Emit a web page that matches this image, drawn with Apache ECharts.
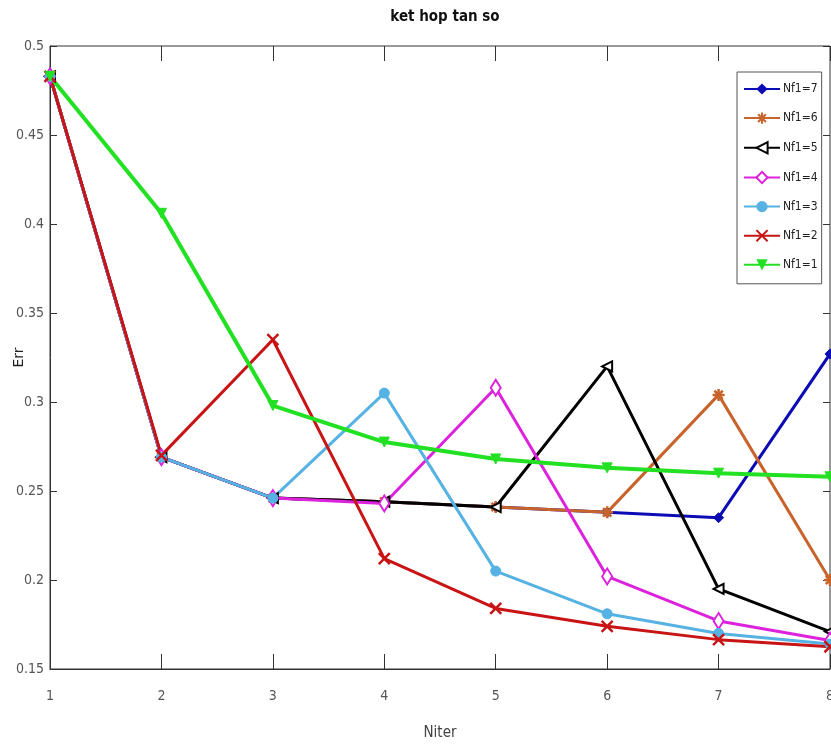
<!DOCTYPE html>
<html>
<head>
<meta charset="utf-8">
<script src="https://cdn.jsdelivr.net/npm/echarts@6/dist/echarts.min.js"></script>
<style>
  html, body { margin: 0; padding: 0; background: #fff; }
  #myChart { width: 831px; height: 747px; }
</style>
</head>
<body>
<div id="myChart"></div>
<script>
// iterations on x axis
var niter = [1, 2, 3, 4, 5, 6, 7, 8];
var yTicks = [0.15, 0.2, 0.25, 0.3, 0.35, 0.4, 0.45, 0.5];

// Err for each Nf1
var nf7 = [0.483, 0.269, 0.246, 0.244, 0.241, 0.238, 0.235, 0.327];
var nf6 = [0.483, 0.269, 0.246, 0.244, 0.241, 0.238, 0.304, 0.200];
var nf5 = [0.483, 0.269, 0.246, 0.244, 0.241, 0.320, 0.195, 0.171];
var nf4 = [0.483, 0.269, 0.246, 0.243, 0.308, 0.202, 0.177, 0.166];
var nf3 = [0.483, 0.269, 0.246, 0.305, 0.205, 0.181, 0.170, 0.164];
var nf2 = [0.483, 0.270, 0.335, 0.212, 0.184, 0.174, 0.1665, 0.1625];
var nf1 = [0.483, 0.406, 0.298, 0.2775, 0.268, 0.263, 0.260, 0.258];

var FONT = "'Liberation Sans Narrow', 'DejaVu Sans Condensed', 'Liberation Sans', sans-serif";

function pairs(arr) {
    return niter.map(function (x, i) { return [x, arr[i]]; });
}

var starPath = 'path://M0,-10 L0,10 M-10,0 L10,0 M-7,-7 L7,7 M-7,7 L7,-7';
var crossPath = 'path://M-8,-10 L8,10 M8,-10 L-8,10';

function mkSeries(name, arr, color, symbol, extra) {
    var s = {
        name: name,
        type: 'line',
        data: pairs(arr),
        symbol: symbol,
        symbolSize: 10,
        lineStyle: { color: color, width: 3 },
        itemStyle: { color: color, borderColor: color },
        emphasis: { disabled: true }
    };
    if (extra) {
        for (var k in extra) s[k] = extra[k];
    }
    return s;
}

var myChart = echarts.init(document.getElementById('myChart'));

var option = {
    animation: false,
    backgroundColor: '#fff',
    title: {
        text: 'ket hop tan so',
        left: 440,
        top: 5,
        textAlign: 'center',
        textStyle: { fontFamily: FONT, fontSize: 15, fontWeight: 'bold', color: '#111' }
    },
    legend: {
        orient: 'vertical',
        left: 737,
        top: 72,
        padding: [11, 4, 13, 6],
        itemGap: 16.5,
        itemWidth: 36,
        itemHeight: 14,
        backgroundColor: '#fff',
        borderColor: '#555',
        borderWidth: 1,
        borderRadius: 0,
        textStyle: { fontFamily: FONT, fontSize: 12, color: '#222', padding: [0, 0, 0, -2] },
        data: ['Nf1=7', 'Nf1=6', 'Nf1=5', 'Nf1=4', 'Nf1=3', 'Nf1=2', 'Nf1=1']
    },
    grid: {
        left: 50,
        right: 1,
        top: 46,
        bottom: 78,
        outerBoundsMode: 'none',
        containLabel: false,
        show: true,
        borderColor: '#333',
        borderWidth: 1
    },
    xAxis: [{
        type: 'value',
        min: 1,
        max: 8,
        interval: 1,
        name: 'Niter',
        nameLocation: 'middle',
        nameGap: 57,
        nameMoveOverlap: false,
        nameTextStyle: { fontFamily: FONT, fontSize: 15, color: '#444' },
        axisLine: { lineStyle: { color: '#333' } },
        axisTick: { inside: true, length: 15, lineStyle: { color: '#333' } },
        axisLabel: { fontFamily: FONT, fontSize: 14, color: '#555', margin: 20 },
        splitLine: { show: false }
    }, {
        type: 'value',
        position: 'top',
        min: 1,
        max: 8,
        interval: 1,
        axisLine: { show: false },
        axisTick: { inside: true, length: 15, lineStyle: { color: '#333' } },
        axisLabel: { show: false },
        splitLine: { show: false }
    }],
    yAxis: [{
        type: 'value',
        min: 0.15,
        max: 0.5,
        interval: 0.05,
        name: 'Err',
        nameLocation: 'middle',
        nameGap: 24,
        nameMoveOverlap: false,
        nameTextStyle: { fontFamily: 'DejaVu Sans', fontSize: 14, color: '#222' },
        axisLine: { show: true, lineStyle: { color: '#333' } },
        axisTick: { show: true, inside: true, length: 7, lineStyle: { color: '#333' } },
        axisLabel: {
            fontFamily: FONT, fontSize: 14, color: '#555', margin: 6,
            formatter: function (v) {
                var r = Math.round(v * 100) / 100;
                return yTicks.indexOf(r) >= 0 ? String(r) : '';
            }
        },
        splitLine: { show: false }
    }, {
        type: 'value',
        position: 'right',
        min: 0.15,
        max: 0.5,
        interval: 0.05,
        axisLine: { show: false },
        axisTick: { show: true, inside: true, length: 7, lineStyle: { color: '#333' } },
        axisLabel: { show: false },
        splitLine: { show: false }
    }],
    series: [
        mkSeries('Nf1=7', nf7, '#0c0cb4', 'diamond'),
        mkSeries('Nf1=6', nf6, '#c9632c', starPath, { symbolSize: 12, itemStyle: { color: '#c9632c', borderColor: '#c9632c', borderWidth: 2.5 } }),
        mkSeries('Nf1=5', nf5, '#000000', 'emptyTriangle', { symbolRotate: 90 }),
        mkSeries('Nf1=4', nf4, '#dd22dd', 'emptyDiamond', { symbolSize: [10, 16] }),
        mkSeries('Nf1=3', nf3, '#55b2e3', 'circle'),
        mkSeries('Nf1=2', nf2, '#c81414', crossPath, { symbolSize: 11, itemStyle: { color: '#c81414', borderColor: '#c81414', borderWidth: 2.5 } }),
        mkSeries('Nf1=1', nf1, '#22e022', 'triangle', { symbolRotate: 180, lineStyle: { color: '#22e022', width: 4 } })
    ]
};

myChart.setOption(option);
</script>
</body>
</html>
